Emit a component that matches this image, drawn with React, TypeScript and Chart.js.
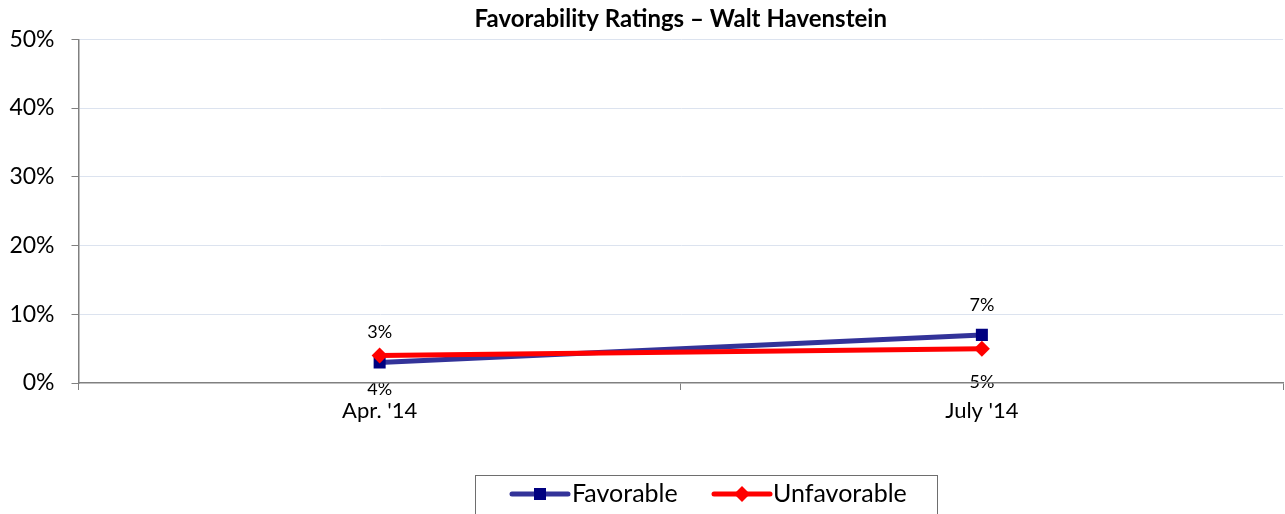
import React, { useEffect, useRef } from 'react';
import { Chart, registerables } from 'chart.js';

Chart.register(...registerables);

const categories = ["Apr. '14", "July '14"];
const favorable = [3, 7];
const unfavorable = [4, 5];
const seriesNames = ['Favorable', 'Unfavorable'];
const yMin = 0;
const yMax = 50;
const yStep = 10;
const chartTitle = 'Favorability Ratings – Walt Havenstein';

const FONT = 'Lato, "Open Sans", sans-serif';
const FAV_LINE = '#333399';
const FAV_MARK = '#000080';
const UNF = '#ff0000';
const TITLE_SIZE = 24;

function drawMarker(ctx: CanvasRenderingContext2D, style: string, x: number, y: number, color: string) {
  ctx.fillStyle = color;
  ctx.beginPath();
  if (style === 'rect') {
    ctx.rect(x - 6, y - 6, 12, 12);
  } else {
    ctx.moveTo(x - 8, y);
    ctx.lineTo(x, y - 8);
    ctx.lineTo(x + 8, y);
    ctx.lineTo(x, y + 8);
    ctx.closePath();
  }
  ctx.fill();
}

const titlePlugin = {
  id: 'centeredTitle',
  afterDraw(chart: any) {
    const ctx = chart.ctx as CanvasRenderingContext2D;
    const t = chart.titleBlock;
    ctx.save();
    ctx.font = `bold ${TITLE_SIZE}px ${FONT}`;
    ctx.fillStyle = '#000';
    ctx.textAlign = 'center';
    ctx.textBaseline = 'middle';
    const cx = (chart.chartArea.left + chart.chartArea.right) / 2;
    const cy = t ? t.top + t.height / 2 : 20;
    ctx.fillText(chartTitle, cx, cy);
    ctx.restore();
  },
};

const labelPlugin = {
  id: 'pointLabels',
  afterDatasetsDraw(chart: any) {
    const ctx = chart.ctx as CanvasRenderingContext2D;
    ctx.save();
    ctx.font = `18px ${FONT}`;
    ctx.fillStyle = '#000';
    ctx.textAlign = 'center';
    ctx.textBaseline = 'middle';
    chart.data.datasets.forEach((ds: any, di: number) => {
      const meta = chart.getDatasetMeta(di);
      meta.data.forEach((pt: any, i: number) => {
        const above = di === 0;
        ctx.fillText(ds.data[i] + '%', pt.x, pt.y + (above ? -30 : 34));
      });
    });
    ctx.restore();
  },
};

const legendPlugin = {
  id: 'boxLegend',
  afterDraw(chart: any) {
    const ctx = chart.ctx as CanvasRenderingContext2D;
    ctx.save();
    const left = 475.5, top = 475.5, w = 462, h = 40;
    ctx.strokeStyle = '#6e6e6e';
    ctx.lineWidth = 1;
    ctx.strokeRect(left, top, w, h);
    const cy = 494;
    const items = [
      { x0: 512, textX: 572 },
      { x0: 714, textX: 773 },
    ];
    chart.data.datasets.forEach((ds: any, di: number) => {
      const it = items[di];
      ctx.strokeStyle = ds.borderColor;
      ctx.lineWidth = 5;
      ctx.lineCap = 'round';
      ctx.beginPath();
      ctx.moveTo(it.x0, cy);
      ctx.lineTo(it.x0 + 56, cy);
      ctx.stroke();
      drawMarker(ctx, ds.pointStyle, it.x0 + 28, cy, ds.pointBackgroundColor);
      ctx.fillStyle = '#000';
      ctx.font = `25px ${FONT}`;
      ctx.textAlign = 'left';
      ctx.textBaseline = 'middle';
      ctx.fillText(ds.label, it.textX, cy);
    });
    ctx.restore();
  },
};

export default function App() {
  const ref = useRef<HTMLCanvasElement | null>(null);

  useEffect(() => {
    document.body.style.margin = '0';
    if (!ref.current) return;
    const chart = new Chart(ref.current, {
      type: 'line',
      data: {
        labels: categories,
        datasets: [
          {
            label: seriesNames[0],
            data: favorable,
            borderColor: FAV_LINE,
            backgroundColor: FAV_LINE,
            borderWidth: 5,
            pointStyle: 'rect',
            pointRadius: 8.5,
            pointBackgroundColor: FAV_MARK,
            pointBorderColor: FAV_MARK,
            pointBorderWidth: 0,
            tension: 0,
            order: 1,
          },
          {
            label: seriesNames[1],
            data: unfavorable,
            borderColor: UNF,
            backgroundColor: UNF,
            borderWidth: 5,
            pointStyle: 'rectRot',
            pointRadius: 8,
            pointBackgroundColor: UNF,
            pointBorderColor: UNF,
            pointBorderWidth: 0,
            tension: 0,
            order: 0,
          },
        ],
      },
      options: {
        responsive: false,
        animation: false,
        layout: { autoPadding: false, padding: { left: -7.6, right: 2, top: 0, bottom: 81.6 } },
        plugins: {
          legend: { display: false },
          tooltip: { enabled: false },
          title: {
            display: true,
            text: chartTitle,
            color: 'rgba(0,0,0,0)',
            font: { family: FONT, size: 19, weight: 'bold' },
            padding: { top: 8.5, bottom: 8 },
          },
        },
        scales: {
          x: {
            type: 'category',
            offset: true,
            grid: {
              display: true,
              drawOnChartArea: false,
              drawTicks: true,
              tickLength: 7,
              tickColor: '#808080',
              offset: true,
            },
            border: { color: '#808080', width: 1.5, z: 1 },
            ticks: { font: { family: FONT, size: 22 }, color: '#000', padding: 8 },
          },
          y: {
            min: yMin,
            max: yMax,
            ticks: {
              stepSize: yStep,
              callback: (v: any) => v + '%',
              font: { family: FONT, size: 23 },
              color: '#000',
              padding: 17,
            },
            grid: {
              color: (c: any) => (c.tick && c.tick.value === 0 ? 'rgba(0,0,0,0)' : '#dce3ef'),
              tickColor: '#808080',
              tickLength: 7,
            },
            border: { color: '#808080', width: 1.5 },
          },
        },
      },
      plugins: [labelPlugin, legendPlugin, titlePlugin],
    });
    return () => chart.destroy();
  }, []);

  return (
    <div style={{ width: 1285, height: 514 }}>
      <canvas ref={ref} width={1285} height={514} />
    </div>
  );
}
